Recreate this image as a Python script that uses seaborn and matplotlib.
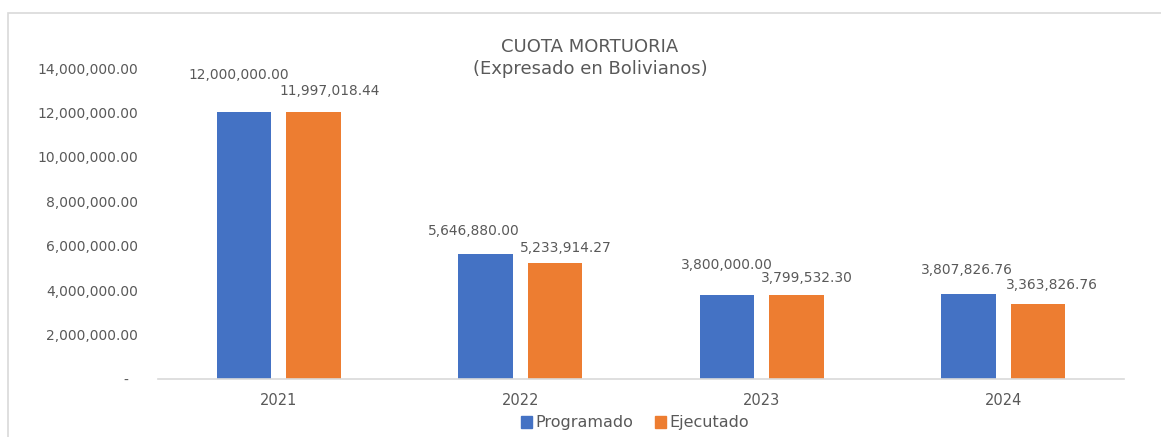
import numpy as np
import pandas as pd
import matplotlib
matplotlib.use("Agg")
import matplotlib.pyplot as plt
import seaborn as sns
from matplotlib.patches import Rectangle
from matplotlib.ticker import FuncFormatter

# ==========================================
# Data
# ==========================================
years = ["2021", "2022", "2023", "2024"]
programado = [12000000.00, 5646880.00, 3800000.00, 3807826.76]
ejecutado = [11997018.44, 5233914.27, 3799532.30, 3363826.76]
series = ["Programado", "Ejecutado"]
colors = ["#4472C4", "#ED7D31"]

# label offsets in pixels (dx, dy), Excel-style manual placement
label_offsets = {
    "Programado": [(-5, 37), (-12, 23), (0, 30), (-2, 24)],
    "Ejecutado": [(16, 21), (11, 15), (11, 17), (14, 19)],
}

df = pd.DataFrame({
    "year": years * 2,
    "serie": ["Programado"] * len(years) + ["Ejecutado"] * len(years),
    "valor": programado + ejecutado,
})

TEXT = "#595959"
W, H, DPI = 1161, 437, 100

sns.set_style("white")
plt.rcParams["font.family"] = ["DejaVu Sans"]

fig = plt.figure(figsize=(W / DPI, H / DPI), dpi=DPI)
ax = fig.add_axes([158 / W, 1 - 379 / H, (1124 - 158) / W, (379 - 68) / H])

sns.barplot(data=df, x="year", y="valor", hue="serie", hue_order=series,
            palette=colors, saturation=1, width=0.572, gap=0.21,
            linewidth=0, ax=ax, legend=True)

ax.set_ylim(0, 14000000)
ax.set_yticks(np.arange(0, 14000001, 2000000))
ax.yaxis.set_major_formatter(FuncFormatter(lambda v, p: "-  " if v == 0 else f"{v:,.2f}"))
ax.set_xlim(-0.5, len(years) - 0.5)
ax.set_xlabel("")
ax.set_ylabel("")

ax.tick_params(axis="y", length=0, pad=14.4, labelsize=10, labelcolor=TEXT)
ax.tick_params(axis="x", length=0, pad=10, labelsize=10.5, labelcolor=TEXT)

for s in ["left", "top", "right"]:
    ax.spines[s].set_visible(False)
ax.spines["bottom"].set_color("#d9d9d9")
ax.spines["bottom"].set_linewidth(1.2)

# data labels
for cont, name in zip(ax.containers, series):
    for bar, (dx, dy) in zip(cont, label_offsets[name]):
        v = bar.get_height()
        ax.annotate(f"{v:,.2f}", (bar.get_x() + bar.get_width() / 2, v),
                    xytext=(dx * 0.72, dy * 0.72), textcoords="offset points",
                    ha="center", va="center", fontsize=9.9, color=TEXT)

# legend
ax.get_legend().remove()
handles = [Rectangle((0, 0), 1, 1, color=c) for c in colors]
fig.legend(handles, series, loc="center", bbox_to_anchor=(635 / W, 1 - 423 / H),
           ncol=2, frameon=False, fontsize=11.5, labelcolor=TEXT,
           handlelength=0.7, handleheight=0.7, handletextpad=0.25,
           columnspacing=1.3, borderpad=0)

# title
fig.text(590 / W, 1 - 47 / H, "CUOTA MORTUORIA", ha="center", va="center",
         fontsize=13, color=TEXT)
fig.text(590 / W, 1 - 69 / H, "(Expresado en Bolivianos)", ha="center", va="center",
         fontsize=13, color=TEXT)

# chart border
fig.patches.append(Rectangle((7.5 / W, -0.05), 1.2, 1 - 12.5 / H + 0.05,
                             transform=fig.transFigure, fill=False,
                             edgecolor="#d9d9d9", linewidth=1.2))

fig.savefig("out.png", dpi=DPI)
